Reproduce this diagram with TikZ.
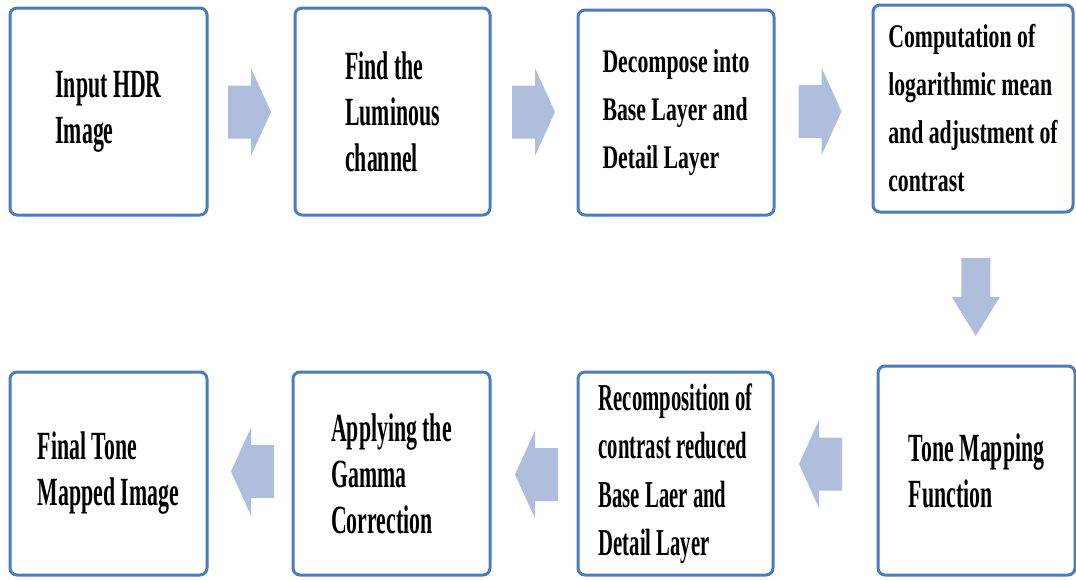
\documentclass[tikz,border=0pt]{standalone}
\usepackage{fontspec}
\newfontfamily\fa[FakeStretch=0.545]{Liberation Serif}
\newfontfamily\fb[FakeStretch=0.66]{Liberation Serif}
\usetikzlibrary{calc}
\definecolor{boxblue}{RGB}{74,124,190}
\definecolor{arrowblue}{RGB}{175,190,220}
\tikzset{
  stepbox/.style={draw=boxblue, line width=3pt, rounded corners=7pt, fill=white,
    align=left, inner sep=0pt, minimum width=#1, minimum height=205pt},
  tall/.style={font=\fa\bfseries\fontsize{40}{46}\selectfont},
  flat/.style={font=\fb\bfseries\fontsize{33}{48}\selectfont},
  rarrow/.pic={\fill[arrowblue] (-21.5,-26.5) -- (1.5,-26.5) -- (1.5,-44) -- (21.5,0)
      -- (1.5,44) -- (1.5,26.5) -- (-21.5,26.5) -- cycle;},
  darrow/.pic={\fill[arrowblue] (-14.5,-39) -- (14.5,-39) -- (14.5,0) -- (24,0)
      -- (0,39) -- (-24,0) -- (-14.5,0) -- cycle;}
}
\begin{document}
\begin{tikzpicture}[x=1pt,y=-1pt]
\useasboundingbox (0,0) rectangle (1076,579);
% top row
\node[stepbox=197pt, minimum height=207pt, tall] (b1) at (108.5,111.5) {Input HDR\\Image};
\node[stepbox=195pt, minimum height=207pt, tall] (b2) at (392.5,111.5) {Find the\\Luminous\\channel};
\node[stepbox=196pt, flat] (b3) at (676,112.5) {Decompose into\\Base Layer and\\Detail Layer};
\node[stepbox=200pt, minimum height=207pt, flat] (b4) at (973,108.5) {Computation of\\logarithmic mean\\and adjustment of\\contrast};
% bottom row
\node[stepbox=197pt, minimum height=209pt, tall] (b5) at (976.5,470.5) {Tone Mapping\\Function};
\node[stepbox=195pt, minimum height=203pt, font=\fa\bfseries\fontsize{38}{48.5}\selectfont] (b6) at (675.5,473.5) {Recomposition of\\contrast reduced\\Base Laer and\\Detail Layer};
\node[stepbox=197pt, minimum height=203pt, tall] (b7) at (391.5,473.5) {Applying the\\Gamma\\Correction};
\node[stepbox=197pt, minimum height=203pt, tall] (b8) at (108.5,473.5) {Final Tone\\Mapped Image};
% block arrows
\pic at ($(b1.east)!0.5!(b2.west)+(-1.5,0.5)$) {rarrow};
\pic at ($(b2.east)!0.5!(b3.west)+(-0.5,0)$) {rarrow};
\pic at ($(b3.east)!0.5!(b4.west)+(-3.5,1)$) {rarrow};
\pic at ($(b4.south)!0.5!(b5.north)+(1,8)$) {darrow};
\pic[rotate=180] at ($(b5.west)!0.5!(b6.east)+(-5,-8)$) {rarrow};
\pic[rotate=180] at ($(b6.west)!0.5!(b7.east)+(2.5,1)$) {rarrow};
\pic[rotate=180] at ($(b7.west)!0.5!(b8.east)+(2.5,-2)$) {rarrow};
\end{tikzpicture}
\end{document}
